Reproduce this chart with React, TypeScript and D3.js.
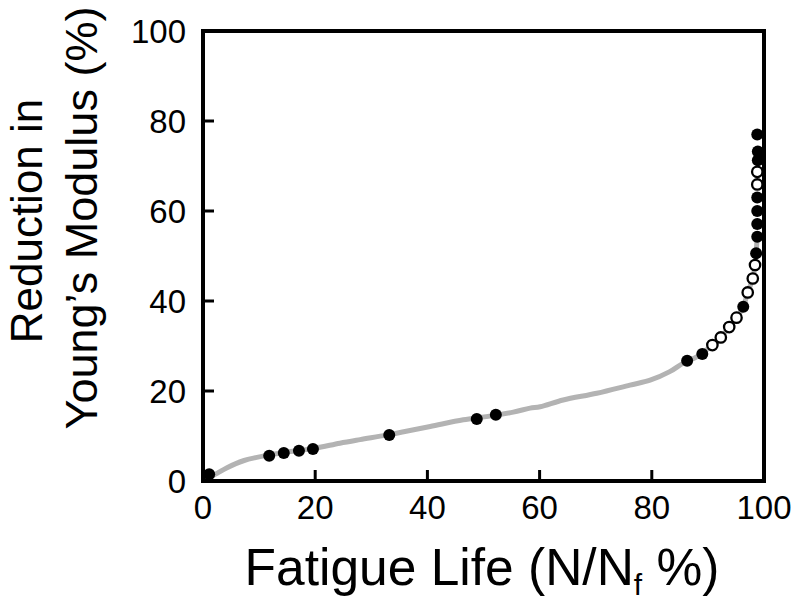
import React from "react";
import * as d3 from "d3";

const curveX = [0.5, 2.5, 4.2, 7.2, 11.8, 16, 20, 24.4, 28, 32.7, 36, 40.5, 46.4, 50.5, 55.3, 58.3, 60.1, 64.2, 70.2, 76.1, 79.7, 83.2, 85.6, 88, 90.8, 92.3, 93.8, 95.1, 96.3, 97.1, 98.0, 98.4, 98.6, 98.8];
const curveY = [0.4, 1.7, 2.9, 4.5, 5.8, 6.6, 7.3, 8.4, 9.2, 10.2, 11.0, 12.1, 13.6, 14.3, 15.3, 16.2, 16.5, 18.0, 19.5, 21.3, 22.4, 24.3, 26.2, 27.6, 30.2, 31.9, 34.2, 36.3, 38.7, 41.9, 45.0, 48.0, 50.6, 55];

const filledX = [1.1, 11.8, 14.4, 17.1, 19.6, 33.2, 48.8, 52.2, 86.3, 89.0, 96.3, 98.6, 98.8, 98.8, 98.8, 98.8, 98.9, 98.9, 98.8];
const filledY = [1.5, 5.6, 6.2, 6.7, 7.1, 10.2, 13.8, 14.7, 26.7, 28.2, 38.7, 50.6, 54.3, 57.1, 60.0, 63.0, 71.3, 73.2, 77.0];

const openX = [90.8, 92.3, 93.8, 95.1, 97.1, 98.0, 98.4, 98.8, 98.8];
const openY = [30.2, 31.9, 34.2, 36.3, 41.9, 45.0, 48.0, 65.9, 68.7];

const xTicks = [0, 20, 40, 60, 80, 100];
const yTicks = [0, 20, 40, 60, 80, 100];

const FONT = "'Liberation Sans', Arial, Helvetica, sans-serif";

export default function App() {
  const left = 203, right = 764, top = 31, bottom = 481;
  const x = d3.scaleLinear().domain([0, 100]).range([left, right]);
  const y = d3.scaleLinear().domain([0, 100]).range([bottom, top]);
  const line = d3.line<number>().x((_, i) => x(curveX[i])).y((d) => y(d)).curve(d3.curveCatmullRom.alpha(0.5));

  return (
    <svg width={800} height={612} style={{ position: "absolute", left: 0, top: 0, background: "#fff" }} fontFamily={FONT}>
      <rect x={0} y={0} width={800} height={612} fill="#fff" />
      <path d={line(curveY) || ""} fill="none" stroke="#b3b3b3" strokeWidth={5} strokeLinejoin="round" strokeLinecap="round" />
      {xTicks.slice(1, -1).map((t) => (
        <line key={"xt" + t} x1={x(t)} x2={x(t)} y1={bottom} y2={bottom - 11} stroke="#000" strokeWidth={3} />
      ))}
      {yTicks.slice(1, -1).map((t) => (
        <line key={"yt" + t} x1={left} x2={left + 11} y1={y(t)} y2={y(t)} stroke="#000" strokeWidth={3} />
      ))}
      <rect x={left} y={top} width={right - left} height={bottom - top} fill="none" stroke="#000" strokeWidth={4} />
      {filledX.map((v, i) => (
        <circle key={"f" + i} cx={x(v)} cy={y(filledY[i])} r={6} fill="#000" />
      ))}
      {openX.map((v, i) => (
        <circle key={"o" + i} cx={x(v)} cy={y(openY[i])} r={5.2} fill="#fff" stroke="#000" strokeWidth={2.3} />
      ))}
      {xTicks.map((t) => (
        <text key={"xl" + t} x={x(t)} y={519} textAnchor="middle" fontSize={33} fill="#000">{t}</text>
      ))}
      {yTicks.map((t) => (
        <text key={"yl" + t} x={186} y={y(t) + 11.5} textAnchor="end" fontSize={33} fill="#000">{t}</text>
      ))}
      <text x={482} y={585} textAnchor="middle" fontSize={51.5} fill="#000">
        Fatigue Life (N/N<tspan fontSize={30} dy={10}>f</tspan><tspan dy={-10}> %)</tspan>
      </text>
      <text transform="translate(42,221) rotate(-90)" textAnchor="middle" fontSize={44} fill="#000">Reduction in</text>
      <text transform="translate(97,218) rotate(-90)" textAnchor="middle" fontSize={45} fill="#000">Young’s Modulus (%)</text>
    </svg>
  );
}
